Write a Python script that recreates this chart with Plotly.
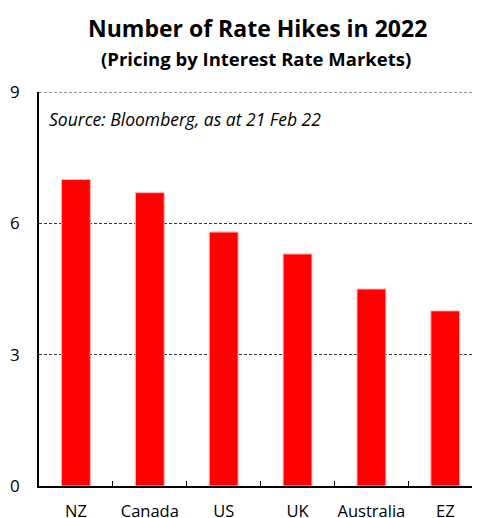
import plotly.graph_objects as go

categories = ["NZ", "Canada", "US", "UK", "Australia", "EZ"]
hikes = [7.0, 6.7, 5.8, 5.3, 4.5, 4.0]
y_ticks = [0, 3, 6, 9]

FONT = "Open Sans"

fig = go.Figure(go.Bar(
    x=categories, y=hikes, marker=dict(color="#ff0000", line=dict(color="#ffb0b0", width=1)),
    width=0.39,
))

# page has an 8px body margin: figure occupies page pixels 8..480 x 8..518
OFF = 8
W, H = 480 - OFF, 518 - OFF
L, T = 39 - OFF, 92 - OFF
B = H - (486 - OFF)
pw = W - L
ph = H - T - B


def px_x(x):
    return (x - OFF - L) / pw


def px_y(y):
    return (H - B - (y - OFF)) / ph


fig.update_layout(
    width=W, height=H,
    margin=dict(l=L, r=0, t=T, b=B, autoexpand=False),
    paper_bgcolor="white", plot_bgcolor="white",
    font=dict(family=FONT, color="black", size=16),
    showlegend=False,
    annotations=[
        dict(text="<b>Number of Rate Hikes in 2022</b>", x=px_x(257), y=px_y(28), xref="paper", yref="paper",
             xanchor="center", yanchor="middle", showarrow=False, font=dict(size=23, family=FONT)),
        dict(text="<b>(Pricing by Interest Rate Markets)</b>", x=px_x(256), y=px_y(59), xref="paper", yref="paper",
             xanchor="center", yanchor="middle", showarrow=False, font=dict(size=18.5, family=FONT)),
        dict(text="<i>Source: Bloomberg, as at 21 Feb 22</i>", x=px_x(47), y=px_y(119), xref="paper", yref="paper",
             xanchor="left", yanchor="middle", showarrow=False, font=dict(size=17.5, family=FONT)),
    ],
    shapes=[
        dict(type="line", xref="paper", yref="y", x0=0, x1=1, y0=y_ticks[-1], y1=y_ticks[-1],
             line=dict(color="#333333", width=1, dash="3px,2px")),
    ],
)

fig.update_xaxes(
    range=[-0.5, 5.47], showline=True, linecolor="black", linewidth=1.5,
    ticks="inside", ticklen=5, tickcolor="black", tickwidth=1.2, tickson="boundaries",
    ticklabelstandoff=9, tickangle=0, automargin=False, tickfont=dict(size=16.5),
    showgrid=False, fixedrange=True,
)
fig.update_yaxes(
    range=[0, 9], tickvals=y_ticks, showline=True, linecolor="black", linewidth=1.5,
    showgrid=True, gridcolor="#333333", gridwidth=1, griddash="3px,2px", automargin=False,
    zeroline=False, ticks="", ticklabelstandoff=14, tickfont=dict(size=17),
)

fig.write_html("out.html")
